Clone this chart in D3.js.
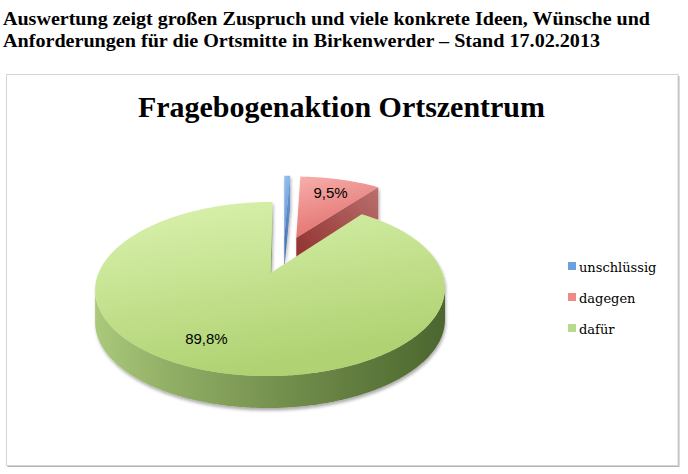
<!DOCTYPE html>
<html>
<head>
<meta charset="utf-8">
<script src="https://cdn.jsdelivr.net/npm/d3@7"></script>
<style>
  html, body { margin: 0; padding: 0; background: #ffffff; }
  svg { display: block; }
</style>
</head>
<body>
<svg id="chart" width="688" height="474"></svg>
<script>
// ---- data ----
const categories = ["unschlüssig", "dagegen", "dafür"];
const shares = [0.7, 9.5, 89.8];
const valueLabels = [null, "9,5%", "89,8%"];
const headlineLines = [
  "Auswertung zeigt großen Zuspruch und viele konkrete Ideen, Wünsche und",
  "Anforderungen für die Ortsmitte in Birkenwerder – Stand 17.02.2013"
];
const chartTitle = "Fragebogenaktion Ortszentrum";

// ---- styling per category ----
const palette = {
  "unschlüssig": { topA: "#9cc3f2", topB: "#5b90d4", wallA: "#3f6fae", wallB: "#6f9bd3", sideA: "#6f9bd3", sideB: "#3a5f91", key: "#6e9fdf" },
  "dagegen":     { topA: "#f7aeab", topB: "#e2716e", wallA: "#8e2c2a", wallB: "#b9706e", sideA: "#c0504d", sideB: "#7d2a28", key: "#ef8a87" },
  "dafür":       { topA: "#dbf3b0", topB: "#b0d272", wallA: "#7f9462", wallB: "#9aab85", sideA: "#aac97a", sideB: "#4c662e", key: "#b8da8c" }
};

const svg = d3.select("#chart");
const defs = svg.append("defs");

function gradient(id, x1, y1, x2, y2, stops, units) {
  const g = defs.append("linearGradient").attr("id", id)
    .attr("x1", x1).attr("y1", y1).attr("x2", x2).attr("y2", y2);
  if (units) g.attr("gradientUnits", units);
  stops.forEach(([o, c]) => g.append("stop").attr("offset", o).attr("stop-color", c));
}

// soft shadow under the pie
const shadow = defs.append("filter").attr("id", "pieShadow")
  .attr("x", "-10%").attr("y", "-10%").attr("width", "130%").attr("height", "130%");
shadow.append("feDropShadow").attr("dx", 1).attr("dy", 2.5)
  .attr("stdDeviation", 1.8).attr("flood-color", "#000").attr("flood-opacity", 0.32);

// ---- headline ----
const headline = svg.append("g")
  .attr("font-family", "'Liberation Serif', 'DejaVu Serif', serif")
  .attr("font-weight", "bold").attr("font-size", 18).attr("fill", "#000");
const headlineWidths = [647, 597];
headlineLines.forEach((t, i) => {
  headline.append("text").attr("x", 3).attr("y", 25 + i * 22)
    .attr("textLength", headlineWidths[i]).attr("lengthAdjust", "spacingAndGlyphs")
    .text(t);
});

// ---- chart frame ----
svg.append("rect").attr("x", 7.5).attr("y", 76).attr("width", 672).attr("height", 391)
  .attr("fill", "#b5b5b5");
svg.append("rect").attr("x", 6.5).attr("y", 74.5).attr("width", 671.5).attr("height", 391)
  .attr("fill", "#ffffff").attr("stroke", "#d4d4d4").attr("stroke-width", 1);

svg.append("text")
  .attr("x", 341.5).attr("y", 117)
  .attr("text-anchor", "middle")
  .attr("font-family", "'Liberation Serif', 'DejaVu Serif', serif")
  .attr("font-weight", "bold").attr("font-size", 30)
  .attr("textLength", 407).attr("lengthAdjust", "spacingAndGlyphs")
  .text(chartTitle);

// ---- 3D pie: perspective view of a disc, extruded downwards ----
const elev = 28 * Math.PI / 180;
const sinE = Math.sin(elev), cosE = Math.cos(elev);
const camDist = 5, focal = 825;
const originX = 283.5, originY = 254.6;
const thickness = 32;
const explode = 0.24;

// world (x to the right, y towards the viewer) on the disc top -> screen
function project(x, y) {
  const depth = camDist - y * cosE;
  return [originX + focal * x / depth, originY + focal * sinE * y / depth];
}
const down = p => [p[0], p[1] + thickness];
const poly = pts => "M" + pts.map(p => p[0].toFixed(2) + "," + p[1].toFixed(2)).join("L") + "Z";

const pie = d3.pie().sort(null).value(d => d.value);
const slices = pie(categories.map((c, i) => ({ name: c, value: shares[i], label: valueLabels[i] })));

const geo = slices.map(a => {
  const mid = (a.startAngle + a.endAngle) / 2;
  const ox = explode * Math.sin(mid), oy = -explode * Math.cos(mid);
  const n = Math.max(2, Math.ceil((a.endAngle - a.startAngle) / (Math.PI / 360)));
  const rim = d3.range(n + 1).map(i => {
    const t = a.startAngle + (a.endAngle - a.startAngle) * i / n;
    return project(ox + Math.sin(t), oy - Math.cos(t));
  });
  return { a, mid, ox, oy, apex: project(ox, oy), rim };
});

// paint far slices first
const order = geo.slice().sort((p, q) => p.apex[1] - q.apex[1]);

// outer wall gradient spans the full pie width
const xs = geo.flatMap(g => g.rim.map(p => p[0]));
const xMin = d3.min(xs), xMax = d3.max(xs);

geo.forEach((g, i) => {
  const c = palette[g.a.data.name];
  gradient("top" + i, 0, 0, 0.35, 1, [[0, c.topA], [1, c.topB]]);
  gradient("wall" + i, 0, 1, 1, 0, [[0, c.wallA], [1, c.wallB]]);
  gradient("side" + i, xMin, 0, xMax, 0,
    [[0, c.sideA], [0.2, d3.interpolateRgb(c.sideA, c.sideB)(0.25)], [0.55, d3.interpolateRgb(c.sideA, c.sideB)(0.6)], [1, c.sideB]],
    "userSpaceOnUse");
});

const pieG = svg.append("g").attr("filter", "url(#pieShadow)");

order.forEach(g => {
  const i = geo.indexOf(g);
  const sg = pieG.append("g").attr("class", "slice");
  const rim = g.rim;

  // front-facing runs of the outer wall (screen x decreasing with angle)
  let run = [];
  const runs = [];
  for (let k = 0; k < rim.length - 1; k++) {
    if (rim[k + 1][0] < rim[k][0]) {
      if (!run.length) run.push(rim[k]);
      run.push(rim[k + 1]);
    } else if (run.length) { runs.push(run); run = []; }
  }
  if (run.length) runs.push(run);
  runs.forEach(r => {
    sg.append("path").attr("d", poly(r.concat(r.slice().reverse().map(down))))
      .attr("fill", `url(#side${i})`);
  });

  // radial walls that face the viewer
  const first = rim[0], last = rim[rim.length - 1];
  if (first[0] - g.apex[0] < 0) {
    sg.append("path").attr("d", poly([g.apex, first, down(first), down(g.apex)]))
      .attr("fill", `url(#wall${i})`);
  }
  if (last[0] - g.apex[0] > 0) {
    sg.append("path").attr("d", poly([g.apex, last, down(last), down(g.apex)]))
      .attr("fill", `url(#wall${i})`);
  }

  // top face
  sg.append("path").attr("d", poly([g.apex].concat(rim)))
    .attr("fill", `url(#top${i})`);
});

// ---- value labels ----
const labelPlacement = { "dagegen": { r: 0.75, nudge: 0 }, "dafür": { r: 0.75, nudge: 6.6 } };
geo.forEach(g => {
  if (!g.a.data.label) return;
  const pl = labelPlacement[g.a.data.name];
  const t = g.mid + pl.nudge * Math.PI / 180;
  const p = project(g.ox + pl.r * Math.sin(t), g.oy - pl.r * Math.cos(t));
  svg.append("text")
    .attr("x", p[0]).attr("y", p[1] + 5.5)
    .attr("text-anchor", "middle")
    .attr("font-family", "'Liberation Sans', Arial, sans-serif")
    .attr("font-size", 15).attr("fill", "#000")
    .text(g.a.data.label);
});

// ---- legend ----
const legend = svg.append("g").attr("transform", "translate(568,262)");
categories.forEach((c, i) => {
  const row = legend.append("g").attr("transform", `translate(0,${i * 31})`);
  row.append("rect").attr("x", 0).attr("y", 0).attr("width", 8).attr("height", 8)
    .attr("fill", palette[c].key);
  row.append("text").attr("x", 11).attr("y", 10)
    .attr("font-family", "'DejaVu Serif', 'Liberation Serif', serif")
    .attr("font-size", 13).attr("fill", "#000")
    .text(c);
});
</script>
</body>
</html>
